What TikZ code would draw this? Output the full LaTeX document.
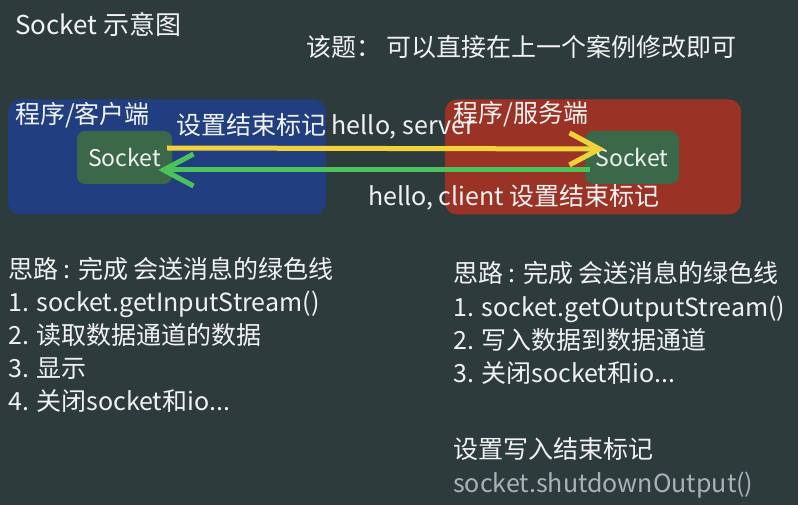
\documentclass[tikz,border=0pt]{standalone}
\usepackage{fontspec}
\setmainfont{Noto Sans CJK SC}
\usetikzlibrary{arrows.meta}

\definecolor{board}{HTML}{2D3B3D}
\definecolor{clientblue}{HTML}{213F80}
\definecolor{serverred}{HTML}{9A3325}
\definecolor{sockgreen}{HTML}{3A6848}
\definecolor{sendyellow}{HTML}{F2D23A}
\definecolor{replygreen}{HTML}{4CC25A}
\definecolor{chalk}{HTML}{F2F2F2}
\definecolor{hintgray}{HTML}{A8B3B7}

\begin{document}
\begin{tikzpicture}[x=1pt, y=-1pt,
    txt/.style={anchor=west, inner sep=0pt, text=chalk, text height=19pt, text depth=5pt,
                font=\fontsize{25}{30}\selectfont},
    side/.style={inner sep=0pt, minimum width=#1, minimum height=115pt, rounded corners=12pt},
    sockbox/.style={fill=sockgreen, inner sep=0pt, minimum width=95pt, minimum height=53pt,
                    rounded corners=8pt, text=chalk, font=\fontsize{23}{28}\selectfont},
    wire/.style={line width=5pt, -{Straight Barb[length=30pt, width=32pt]}}]

    % Fondo
    \fill[board] (0,0) rectangle (798,505);
    \useasboundingbox (0,0) rectangle (798,505);

    % Titulos
    \node[txt, font=\fontsize{26}{30}\selectfont] (title) at (15,28) {Socket 示意图};
    \node[txt] (task) at (306,50) {该题：\ 可以直接在上一个案例修改即可};

    % Cajas de cliente y servidor
    \node[side=318pt, fill=clientblue] (client) at (167,157) {};
    \node[side=296pt, fill=serverred] (server) at (593,157) {};
    \node[txt] (cliLabel) at (15,117) {程序/客户端};
    \node[txt] (srvLabel) at (453,116) {程序/服务端};

    % Sockets
    \node[sockbox] (cliSock) at (124.5,157.5) {Socket};
    \node[sockbox, minimum width=94pt] (srvSock) at (632,157.5) {Socket};

    % Flechas
    \draw[wire, sendyellow] ([xshift=-5pt, yshift=9.5pt]cliSock.east) -- ([xshift=20pt, yshift=8.5pt]srvSock.west);
    \draw[wire, replygreen] ([xshift=5pt, yshift=-12.5pt]srvSock.west) -- ([xshift=-14pt, yshift=-12.5pt]cliSock.east);
    \node[txt] (sendLabel) at (176,128) {设置结束标记 hello, server};
    \node[txt] (replyLabel) at (368,199) {hello, client 设置结束标记};

    % Pasos del cliente
    \node[txt] (cliStep0) at (8,272) {思路 : 完成 会送消息的绿色线};
    \node[txt] (cliStep1) at (8,304) {1. socket.getInputStream()};
    \node[txt] (cliStep2) at (8,337) {2. 读取数据通道的数据};
    \node[txt] (cliStep3) at (8,370) {3. 显示};
    \node[txt] (cliStep4) at (8,403) {4. 关闭socket和io...};

    % Pasos del servidor
    \node[txt] (srvStep0) at (453,276) {思路 : 完成 会送消息的绿色线};
    \node[txt] (srvStep1) at (453,309) {1. socket.getOutputStream()};
    \node[txt] (srvStep2) at (453,342) {2. 写入数据到数据通道};
    \node[txt] (srvStep3) at (453,375) {3. 关闭socket和io...};
    \node[txt] (srvMark) at (453,451) {设置写入结束标记};
    \node[txt, text=hintgray] (srvCall) at (453,485) {socket.shutdownOutput()};
\end{tikzpicture}
\end{document}
